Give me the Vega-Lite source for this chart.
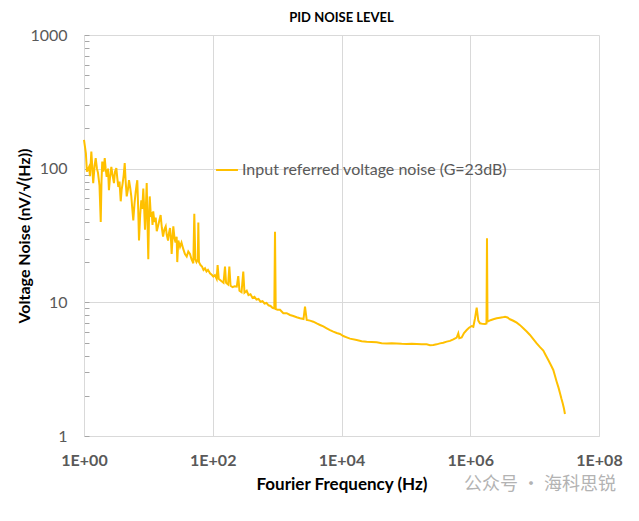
{
  "$schema": "https://vega.github.io/schema/vega-lite/v6.json",
  "autosize": "none",
  "width": 515,
  "height": 401,
  "padding": {"left": 84, "top": 35, "right": 40, "bottom": 85},
  "background": "white",
  "config": {
    "view": {"stroke": null},
    "font": "Lato",
    "axis": {"labelFont": "Lato", "titleFont": "Lato"}
  },
  "title": {"text": "PID NOISE LEVEL", "font": "Lato", "fontSize": 13, "fontWeight": "bold", "color": "#000000", "offset": 2, "anchor": "middle"},
  "layer": [
    {
      "data": {"values": [
        {"f":1.0,"v":164},{"f":1.07,"v":130},{"f":1.11,"v":95},{"f":1.196,"v":103},{"f":1.24,"v":88},{"f":1.30,"v":134},{"f":1.35,"v":100},{"f":1.39,"v":78},{"f":1.46,"v":105},{"f":1.52,"v":120},{"f":1.59,"v":100},{"f":1.65,"v":93},{"f":1.74,"v":75},{"f":1.82,"v":40},{"f":1.87,"v":80},{"f":1.92,"v":113},{"f":2.01,"v":95},{"f":2.10,"v":120},{"f":2.17,"v":100},{"f":2.25,"v":87},{"f":2.36,"v":100},{"f":2.44,"v":69},{"f":2.53,"v":85},{"f":2.66,"v":103},{"f":2.77,"v":90},{"f":2.92,"v":78},{"f":3.03,"v":95},{"f":3.18,"v":101},{"f":3.29,"v":85},{"f":3.41,"v":73},{"f":3.56,"v":80},{"f":3.72,"v":57},{"f":3.85,"v":70},{"f":3.99,"v":78},{"f":4.14,"v":90},{"f":4.29,"v":110},{"f":4.44,"v":80},{"f":4.61,"v":62},{"f":4.82,"v":70},{"f":5.00,"v":82},{"f":5.22,"v":72},{"f":5.43,"v":62},{"f":5.63,"v":50},{"f":5.83,"v":41},{"f":6.09,"v":55},{"f":6.35,"v":67},{"f":6.54,"v":75},{"f":6.73,"v":82},{"f":6.95,"v":50},{"f":7.15,"v":29},{"f":7.46,"v":45},{"f":7.76,"v":58},{"f":8.05,"v":50},{"f":8.34,"v":71},{"f":8.61,"v":50},{"f":8.86,"v":35},{"f":9.19,"v":55},{"f":9.42,"v":78},{"f":9.69,"v":40},{"f":9.97,"v":21},{"f":10.2,"v":40},{"f":10.5,"v":62},{"f":10.9,"v":45},{"f":11.3,"v":46},{"f":11.6,"v":38},{"f":11.9,"v":48},{"f":12.4,"v":40},{"f":13.0,"v":43},{"f":13.5,"v":34},{"f":14.1,"v":37},{"f":14.8,"v":41},{"f":15.5,"v":45},{"f":16.2,"v":36},{"f":16.9,"v":31},{"f":17.7,"v":35},{"f":18.6,"v":37},{"f":19.3,"v":32},{"f":20.2,"v":29},{"f":20.9,"v":33},{"f":21.7,"v":36},{"f":22.4,"v":30},{"f":23.0,"v":23},{"f":23.7,"v":30},{"f":24.4,"v":37},{"f":25.5,"v":30},{"f":26.4,"v":28},{"f":27.5,"v":31},{"f":28.1,"v":20},{"f":29.2,"v":29},{"f":31.0,"v":26},{"f":32.7,"v":28},{"f":34.9,"v":25},{"f":37.0,"v":23},{"f":39.4,"v":22},{"f":41.7,"v":24},{"f":44.3,"v":23},{"f":46.8,"v":21},{"f":49.9,"v":19.6},{"f":51.7,"v":46},{"f":53.6,"v":21},{"f":55.9,"v":20},{"f":58.6,"v":21},{"f":59.7,"v":39.5},{"f":61.1,"v":20},{"f":64.5,"v":19},{"f":68.1,"v":18.5},{"f":71.8,"v":17.5},{"f":75.8,"v":18},{"f":80.0,"v":17},{"f":84.4,"v":17.5},{"f":90.6,"v":16.5},{"f":97.3,"v":16},{"f":102,"v":15.6},{"f":108,"v":16},{"f":115,"v":15},{"f":119,"v":19},{"f":124,"v":15},{"f":130,"v":14.7},{"f":139,"v":14.3},{"f":147,"v":14},{"f":155,"v":18.5},{"f":161,"v":14},{"f":173,"v":13.6},{"f":181,"v":18.5},{"f":189,"v":13.3},{"f":203,"v":13},{"f":218,"v":13.2},{"f":236,"v":13.1},{"f":249,"v":15.7},{"f":260,"v":12.2},{"f":280,"v":11.9},{"f":298,"v":17},{"f":311,"v":11.8},{"f":337,"v":12.2},{"f":359,"v":11.3},{"f":386,"v":11.5},{"f":415,"v":10.8},{"f":445,"v":11},{"f":478,"v":10.5},{"f":514,"v":10.6},{"f":552,"v":10.1},{"f":593,"v":10.2},{"f":637,"v":9.8},{"f":684,"v":9.9},{"f":735,"v":9.5},{"f":789,"v":9.4},{"f":848,"v":9.1},{"f":904,"v":9.0},{"f":927,"v":33.8},{"f":951,"v":8.9},{"f":1014,"v":8.8},{"f":1109,"v":8.8},{"f":1248,"v":8.28},{"f":1409,"v":8.3},{"f":1585,"v":8.04},{"f":1784,"v":7.9},{"f":2014,"v":7.73},{"f":2266,"v":7.6},{"f":2569,"v":7.5},{"f":2710,"v":9.3},{"f":2881,"v":7.38},{"f":3243,"v":7.3},{"f":3650,"v":7.16},{"f":4120,"v":6.95},{"f":4636,"v":6.77},{"f":5219,"v":6.6},{"f":5891,"v":6.39},{"f":6626,"v":6.2},{"f":7457,"v":6.04},{"f":8419,"v":5.9},{"f":9480,"v":5.8},{"f":10670,"v":5.6},{"f":12040,"v":5.47},{"f":13550,"v":5.35},{"f":17220,"v":5.22},{"f":20590,"v":5.12},{"f":24620,"v":5.08},{"f":29440,"v":5.05},{"f":35210,"v":5.02},{"f":42100,"v":4.95},{"f":50340,"v":4.93},{"f":60200,"v":4.95},{"f":71980,"v":4.93},{"f":86080,"v":4.9},{"f":102900,"v":4.88},{"f":123100,"v":4.9},{"f":147200,"v":4.88},{"f":176200,"v":4.85},{"f":210500,"v":4.85},{"f":237100,"v":4.78},{"f":266800,"v":4.8},{"f":301100,"v":4.85},{"f":338800,"v":4.93},{"f":381300,"v":4.99},{"f":430500,"v":5.08},{"f":484500,"v":5.15},{"f":545500,"v":5.29},{"f":616000,"v":5.45},{"f":652000,"v":5.87},{"f":676000,"v":5.4},{"f":736000,"v":5.47},{"f":800000,"v":5.9},{"f":881000,"v":6.21},{"f":957000,"v":6.45},{"f":1054000,"v":6.65},{"f":1116000,"v":6.57},{"f":1186000,"v":7.6},{"f":1259000,"v":9.12},{"f":1334000,"v":7.3},{"f":1416000,"v":6.97},{"f":1549000,"v":6.9},{"f":1694000,"v":6.88},{"f":1787000,"v":6.95},{"f":1820000,"v":30.1},{"f":1853000,"v":7.16},{"f":2064000,"v":7.35},{"f":2282000,"v":7.47},{"f":2576000,"v":7.6},{"f":2898000,"v":7.67},{"f":3170000,"v":7.72},{"f":3465000,"v":7.81},{"f":3788000,"v":7.7},{"f":4142000,"v":7.47},{"f":4662000,"v":7.28},{"f":5270000,"v":7.04},{"f":5930000,"v":6.75},{"f":6670000,"v":6.39},{"f":7530000,"v":6.05},{"f":8470000,"v":5.7},{"f":9540000,"v":5.3},{"f":10770000,"v":4.93},{"f":12120000,"v":4.62},{"f":13640000,"v":4.35},{"f":15020000,"v":3.98},{"f":16300000,"v":3.7},{"f":17950000,"v":3.38},{"f":19500000,"v":3.12},{"f":20700000,"v":2.82},{"f":22000000,"v":2.55},{"f":23500000,"v":2.3},{"f":24800000,"v":2.09},{"f":26100000,"v":1.9},{"f":27300000,"v":1.76},{"f":28600000,"v":1.6},{"f":29600000,"v":1.46}
      ]},
      "mark": {"type": "line", "strokeWidth": 2, "interpolate": "linear"},
      "encoding": {
        "x": {
          "field": "f", "type": "quantitative",
          "scale": {"type": "log", "domain": [1, 100000000], "nice": false},
          "axis": {
            "values": [1, 100, 10000, 1000000, 100000000],
            "labelExpr": "'1E+0' + format(log(datum.value)/LN10, '.0f')",
            "title": "Fourier Frequency (Hz)",
            "titleFontSize": 17, "titleFontWeight": "bold", "titleColor": "#000000", "titlePadding": 8,
            "labelFontSize": 16, "labelFontWeight": "bold", "labelColor": "#595959", "labelPadding": 16,
            "labelOverlap": false, "labelFlush": false,
            "ticks": false, "grid": true, "gridColor": "#d9d9d9", "gridWidth": 1,
            "domainColor": "#d9d9d9", "domainWidth": 1
          }
        },
        "y": {
          "field": "v", "type": "quantitative",
          "scale": {"type": "log", "domain": [1, 1000], "nice": false},
          "axis": {
            "values": [1,2,3,4,5,6,7,8,9,10,20,30,40,50,60,70,80,90,100,200,300,400,500,600,700,800,900,1000],
            "labelExpr": "indexof([1,10,100,1000], datum.value) >= 0 ? format(datum.value, 'd') : ''",
            "title": "Voltage Noise (nV/√(Hz))",
            "titleFontSize": 16, "titleFontWeight": "bold", "titleColor": "#000000", "titlePadding": -3,
            "labelFontSize": 16, "labelColor": "#595959", "labelPadding": 22,
            "labelOverlap": false, "labelFlush": false,
            "tickSize": -5, "tickColor": "#a6a6a6", "tickWidth": 1,
            "grid": true, "gridColor": "#d9d9d9",
            "gridOpacity": {"condition": {"test": "indexof([1,10,100,1000], datum.value) >= 0", "value": 1}, "value": 0},
            "domainColor": "#d9d9d9"
          }
        },
        "color": {
          "datum": "Input referred voltage noise (G=23dB)",
          "type": "nominal",
          "scale": {"range": ["#FFC000"]},
          "legend": {
            "title": null, "orient": "none", "legendX": 131, "legendY": 123,
            "symbolType": "stroke", "symbolSize": 480, "symbolStrokeWidth": 2,
            "labelFont": "Lato", "labelFontSize": 16, "labelColor": "#595959", "labelOffset": 3,
            "labelLimit": 0, "padding": 0
          }
        }
      }
    },
    {
      "data": {"values": [{"f": 12100000, "v": 0.43, "t": "公众号 · 海科思锐"}]},
      "mark": {"type": "text", "font": "Noto Sans CJK SC", "fontSize": 18, "color": "#b3b3b3", "align": "center", "baseline": "middle"},
      "encoding": {
        "x": {"field": "f", "type": "quantitative"},
        "y": {"field": "v", "type": "quantitative"},
        "text": {"field": "t"}
      }
    }
  ]
}
